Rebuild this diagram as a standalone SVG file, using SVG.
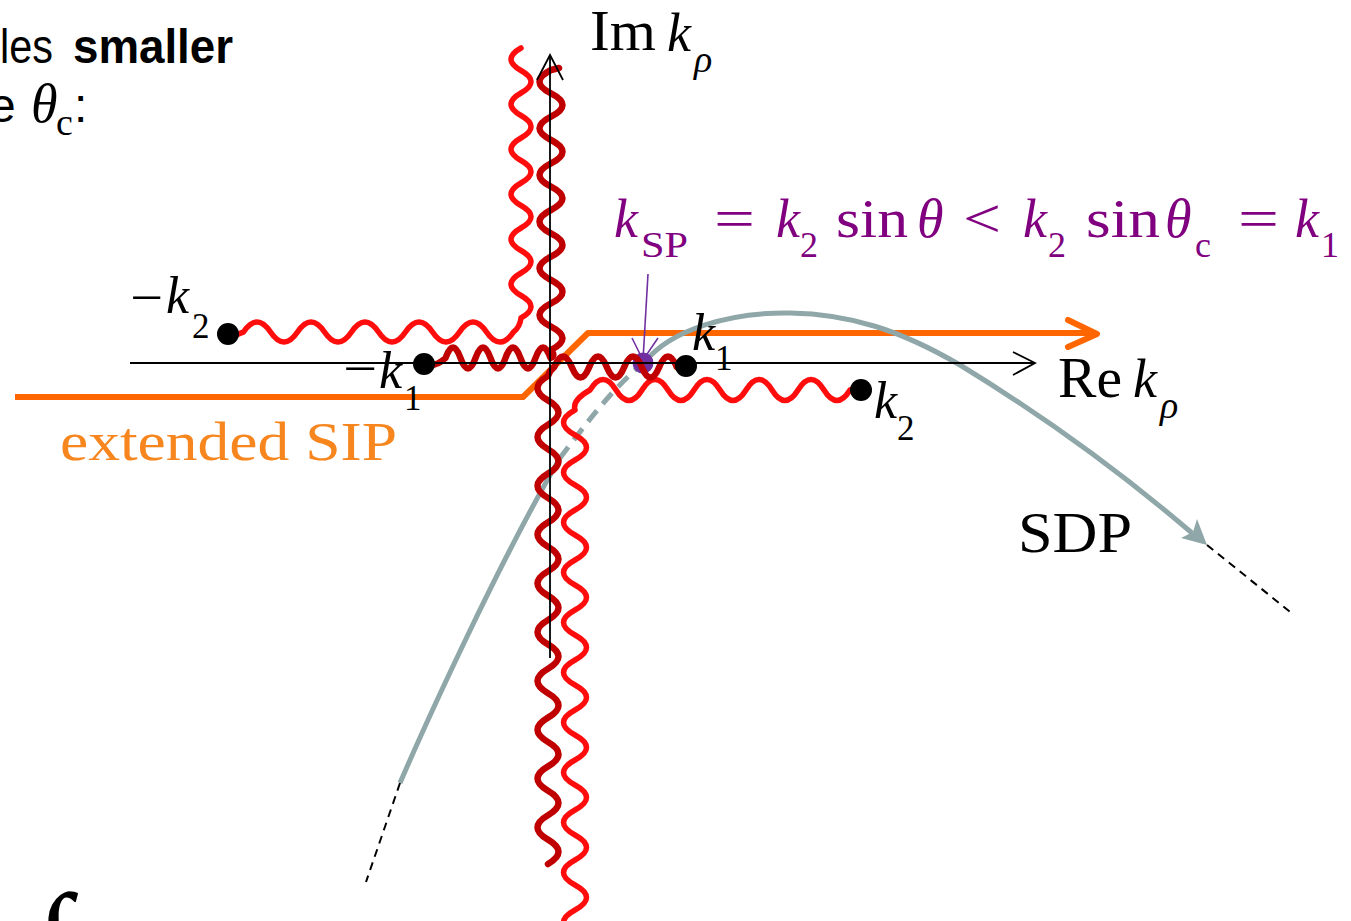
<svg xmlns="http://www.w3.org/2000/svg" width="1351" height="921" viewBox="0 0 1351 921">
<defs>
<style>
.ax{stroke:#000;stroke-width:1.8;fill:none}
.dash{stroke:#000;stroke-width:2;fill:none;stroke-dasharray:8 6}
.sip{stroke:#FF6600;stroke-width:6;fill:none;stroke-linejoin:round}
.sdp{stroke:#8FA7A8;stroke-width:5;fill:none}
.dk{stroke:#C00000;stroke-width:6.5;fill:none;stroke-linecap:round;stroke-linejoin:round}
.lt{stroke:#FF0A0A;stroke-width:5.5;fill:none;stroke-linecap:round;stroke-linejoin:round}
.dot{fill:#000}
.m{font-family:"Liberation Serif",serif;fill:#000}
.i{font-style:italic}
.p{fill:#800080}
.s{font-family:"Liberation Sans",sans-serif;fill:#000}
</style>
<filter id="soft" x="-5%" y="-5%" width="110%" height="110%"><feGaussianBlur stdDeviation="0.6"/></filter>
</defs>
<rect width="1351" height="921" fill="#fff"/>

<g id="connectors">
<path id="sip" class="sip" d="M15,397 L523,397 L588,333 L1094,333"/>
<polyline class="sip" points="1068,320 1097,334 1068,347" stroke-linecap="round"/>
<path class="sdp" d="M400,783 C425,725 500,560 560,458"/>
<path class="sdp" stroke-dasharray="14 9" d="M560,458 C585,425 615,385 645,362"/>
<path class="sdp" d="M645,362 C670,330 730,312 790,313 C850,314 900,330 960,365 C1050,420 1130,480 1192,533"/>
<polygon fill="#8FA7A8" points="1207,545 1181,538 1193,532 1197,519"/>
<line class="dash" x1="1207" y1="545" x2="1294" y2="615"/>
<line class="dash" x1="400" y1="783" x2="366" y2="882"/>
<g filter="url(#soft)">
<path class="lt" d="M228,335 Q236,336 243.5,332 Q257,312 270.5,332 T297.5,332 T324.5,332 T351.5,332 T378.5,332 T405.5,332 T432.5,332 T459.5,332 T486.5,332 T513.5,332 Q520,327 521,318 Q541,306.75 521,295.5 T521,273 T521,250.5 T521,228 T521,205.5 T521,183 T521,160.5 T521,138 T521,115.5 T521,93 T521,70.5 T521,48"/>
<path class="lt" d="M858,390 Q854,388 850,390 Q837,411 824,390 T798,390 T772,390 T746,390 T720,390 T694,390 T668,390 T642,390 T616,390 T590,390 Q572,400 575,410 Q552,422.5 575,435 T575,460 T575,485 T575,510 T575,535 T575,560 T575,585 T575,610 T575,635 T575,660 T575,685 T575,710 T575,735 T575,760 T575,785 T575,810 T575,835 T575,860 T575,885 T575,910 T575,935"/>
</g>
<circle cx="643" cy="363" r="10.5" fill="#7030A0"/>
<path class="dk" d="M424,364 Q435,368 445.5,358 Q453,337 460.5,358 T475.5,358 T490.5,358 T505.5,358 T520.5,358 T535.5,358 T550.5,358 Q556,356 551,350 Q574,338.33 551,326.67 T551,303.33 T551,280 T551,256.67 T551,233.33 T551,210 T551,186.67 T551,163.33 T551,140 T551,116.67 T551,93.33 T551,70 L559,68"/>
<path class="dk" d="M686,366 Q680,362 676.75,367 Q668,346 659.25,367 T641.75,367 T624.25,367 T606.75,367 T589.25,367 T571.75,367 T554.25,367 Q550,370 548,376 Q527,388.2 548,400.4 T548,424.8 T548,449.2 T548,473.6 T548,498 T548,522.4 T548,546.8 T548,571.2 T548,595.6 T548,620 T548,644.4 T548,668.8 T548,693.2 T548,717.6 T548,742 T548,766.4 T548,790.8 T548,815.2 T548,839.6 T548,864"/>
<line class="ax" x1="130" y1="363" x2="1035" y2="363"/>
<polyline class="ax" points="1013,352 1035,363 1013,375"/>
<line class="ax" x1="550" y1="658" x2="550" y2="55"/>
<polyline class="ax" points="537,80 550,55 563,80"/>
<g id="sp-pointer" stroke="#7030A0" stroke-width="1.6" fill="none">
<line x1="648" y1="274" x2="643" y2="360"/>
<polyline points="632,338 643,360 658,338"/>
</g>
</g>

<g id="node-mk2"><circle class="dot" cx="228" cy="334" r="11"/>
<text class="m" x="130" y="315" font-size="52" textLength="33" lengthAdjust="spacingAndGlyphs">−</text><text class="m i" x="166" y="313" font-size="52">k</text><text class="m" x="192" y="338" font-size="35">2</text></g>
<g id="node-mk1"><circle class="dot" cx="424" cy="364" r="11"/>
<text class="m" x="343" y="386" font-size="52" textLength="34" lengthAdjust="spacingAndGlyphs">−</text><text class="m i" x="379" y="388" font-size="52">k</text><text class="m" x="404" y="410" font-size="35">1</text></g>
<g id="node-k1"><circle class="dot" cx="686" cy="366" r="11"/>
<text class="m i" x="692" y="350" font-size="52">k</text><text class="m" x="715" y="370" font-size="35">1</text></g>
<g id="node-k2"><circle class="dot" cx="861" cy="390" r="11"/>
<text class="m i" x="874" y="418" font-size="52">k</text><text class="m" x="897" y="440" font-size="35">2</text></g>

<g id="label-im"><text class="m" x="590" y="50" font-size="56" textLength="66" lengthAdjust="spacingAndGlyphs">Im</text><text class="m i" x="667" y="51" font-size="54">k</text><text class="m i" x="694" y="72" font-size="38">ρ</text></g>
<g id="label-re"><text class="m" x="1058" y="397" font-size="56" textLength="64" lengthAdjust="spacingAndGlyphs">Re</text><text class="m i" x="1133" y="397" font-size="54">k</text><text class="m i" x="1160" y="418" font-size="38">ρ</text></g>
<g id="label-sdp"><text class="m" x="1018" y="552" font-size="58" textLength="114" lengthAdjust="spacingAndGlyphs">SDP</text></g>
<g id="label-sip"><text class="m" x="60" y="460" font-size="54" style="fill:#F7861E" textLength="337" lengthAdjust="spacingAndGlyphs">extended SIP</text></g>

<g id="label-ksp">
<text class="m i p" x="614" y="237" font-size="54">k</text>
<text class="m p" x="641" y="257" font-size="36" textLength="47" lengthAdjust="spacingAndGlyphs">SP</text>
<text class="m p" x="714" y="237" font-size="54" textLength="41" lengthAdjust="spacingAndGlyphs">=</text>
<text class="m i p" x="776" y="237" font-size="54">k</text>
<text class="m p" x="800" y="257" font-size="36">2</text>
<text class="m p" x="836" y="237" font-size="54" textLength="72" lengthAdjust="spacingAndGlyphs">sin</text>
<text class="m i p" x="917" y="237" font-size="54">θ</text>
<text class="m p" x="963" y="237" font-size="54" textLength="38" lengthAdjust="spacingAndGlyphs">&lt;</text>
<text class="m i p" x="1023" y="237" font-size="54">k</text>
<text class="m p" x="1048" y="257" font-size="36">2</text>
<text class="m p" x="1086" y="237" font-size="54" textLength="74" lengthAdjust="spacingAndGlyphs">sin</text>
<text class="m i p" x="1165" y="237" font-size="54">θ</text>
<text class="m p" x="1195" y="257" font-size="36">c</text>
<text class="m p" x="1238" y="237" font-size="54" textLength="41" lengthAdjust="spacingAndGlyphs">=</text>
<text class="m i p" x="1295" y="237" font-size="54">k</text>
<text class="m p" x="1321" y="257" font-size="36">1</text>
</g>

<g id="label-top">
<text class="s" x="0" y="63" font-size="48" textLength="53" lengthAdjust="spacingAndGlyphs">les</text>
<text class="s" x="73" y="63" font-size="48" font-weight="bold" textLength="160" lengthAdjust="spacingAndGlyphs">smaller</text>
<text class="s" x="-11" y="122" font-size="48">e</text>
<text class="m i" x="31" y="122" font-size="54">θ</text>
<text class="m" x="56" y="135" font-size="38">c</text>
<text class="s" x="74" y="122" font-size="48">:</text>
</g>
<g id="label-bottom"><text class="m i" x="36" y="984" font-size="130">∫</text></g>
</svg>
